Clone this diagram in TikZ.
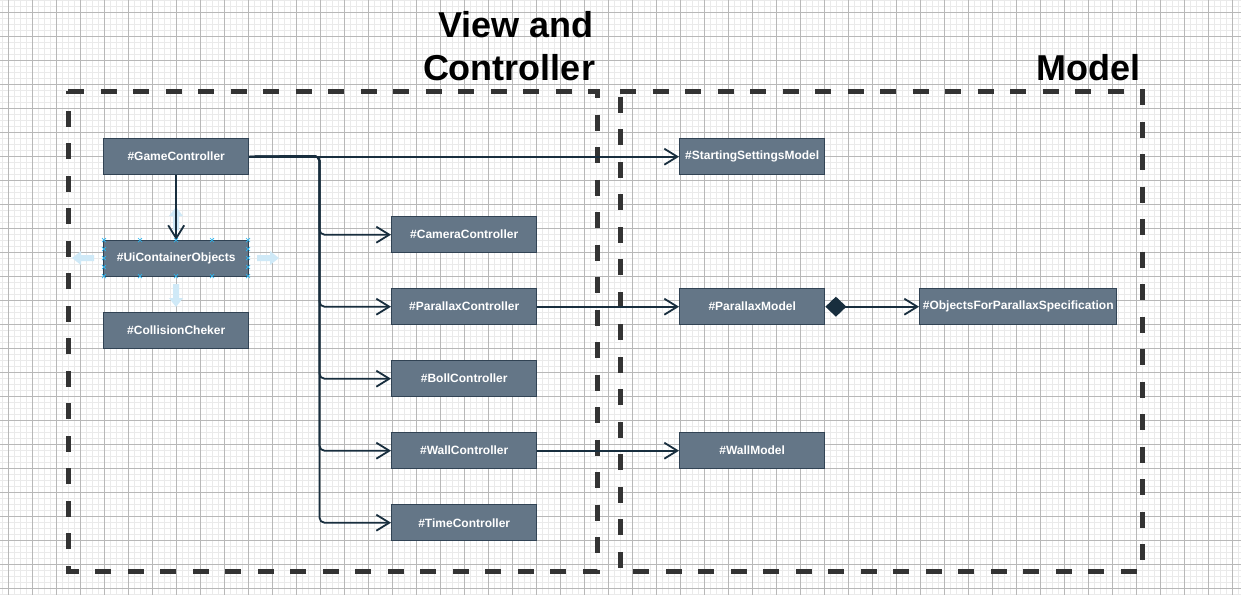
\documentclass[tikz,border=0pt]{standalone}
\usepackage{fontspec}
\setmainfont{Liberation Sans}
\usetikzlibrary{arrows.meta}
\definecolor{boxfill}{HTML}{647687}
\definecolor{boxline}{HTML}{314354}
\definecolor{edgec}{HTML}{182E3E}
\definecolor{dashc}{HTML}{333333}
\definecolor{selblue}{HTML}{29B6F2}
\definecolor{hoverblue}{HTML}{CFE9F7}
\definecolor{gridmajor}{HTML}{B8B8B8}
\definecolor{gridminor}{HTML}{EAEAEA}
\begin{document}
\begin{tikzpicture}[x=1pt,y=-1pt,
  cls/.style={draw=boxline, fill=boxfill, line width=1.4pt, text=white,
    font=\fontsize{12}{14}\selectfont\bfseries, minimum width=145pt,
    minimum height=36pt, inner sep=0pt, anchor=north west},
  conn/.style={draw=edgec, line width=1.8pt, rounded corners=5pt,
    -{Straight Barb[length=13pt,width=16pt]}},
  container/.style={draw=dashc, line width=5pt, dash pattern=on 16pt off 16.5pt},
  title/.style={font=\fontsize{36}{43}\selectfont\bfseries, anchor=base, inner sep=0pt},
  minorgrid/.style={draw=gridminor, line width=1pt},
  majorgrid/.style={draw=gridmajor, line width=0.9pt},
  hover/.style={fill=hoverblue, draw=none},
  handle/.style={draw=selblue, line width=0.7pt}]
\useasboundingbox (0,0) rectangle (1241,595);
\fill[white] (0,0) rectangle (1241,595);
% grid
\foreach \i in {0,...,207} {\draw[minorgrid] ({2+6*\i},0) -- ({2+6*\i},595);}
\foreach \i in {0,...,99} {\draw[minorgrid] (0,{0.7+6*\i}) -- (1241,{0.7+6*\i});}
\foreach \i in {0,...,51} {\draw[majorgrid] ({8+24*\i},0) -- ({8+24*\i},595);}
\foreach \i in {0,...,24} {\draw[majorgrid] (0,{12.7+24*\i}) -- (1241,{12.7+24*\i});}
% containers
\draw[container] (68,91) -- (597,91) -- (597,571) -- (68,571) -- cycle;
\draw[container] (620,91) -- (1142,91) -- (1142,571) -- (620,571) -- cycle;
% titles
\node[title] (tview) at (516,37) {View and};
\node[title] (tctrl) at (509,80) {Controller};
\node[title] (tmodel) at (1088,80) {Model};
% hover arrows around selected node
\fill[hover] (72,258) -- (81,251) -- (81,255) -- (94,255) -- (94,261) -- (81,261) -- (81,265) -- cycle;
\fill[hover] (279,258) -- (270,251) -- (270,255) -- (257,255) -- (257,261) -- (270,261) -- (270,265) -- cycle;
\fill[hover] (176,307) -- (169,298) -- (173,298) -- (173,284) -- (179,284) -- (179,298) -- (183,298) -- cycle;
\fill[hover] (176,207) -- (169,216) -- (173,216) -- (173,230) -- (179,230) -- (179,216) -- (183,216) -- cycle;
% nodes
\node[cls] (gc) at (103,138) {\#GameController};
\node[cls] (ui) at (103,240) {\#UiContainerObjects};
\node[cls] (cc) at (103,312) {\#CollisionCheker};
\node[cls] (cam) at (391,216) {\#CameraController};
\node[cls] (par) at (391,288) {\#ParallaxController};
\node[cls] (boll) at (391,360) {\#BollController};
\node[cls] (wall) at (391,432) {\#WallController};
\node[cls] (time) at (391,504) {\#TimeController};
\node[cls] (ssm) at (679,138) {\#StartingSettingsModel};
\node[cls] (pm) at (679,288) {\#ParallaxModel};
\node[cls] (wm) at (679,432) {\#WallModel};
\node[cls, minimum width=197pt] (ofp) at (919,288) {\#ObjectsForParallaxSpecification};
% connectors
\coordinate (trunk) at (319.5,156);
\draw[conn] (gc.east) -- (ssm.west);
\draw[conn] (gc.east) -- (trunk) |- (cam.west);
\draw[conn] (gc.east) -- (trunk) |- (par.west);
\draw[conn] (gc.east) -- (trunk) |- (boll.west);
\draw[conn] (gc.east) -- (trunk) |- (wall.west);
\draw[conn] (gc.east) -- (trunk) |- (time.west);
\draw[conn] (gc.south) -- (ui.north);
\draw[conn] (par.east) -- (pm.west);
\draw[conn] (wall.east) -- (wm.west);
\draw[conn, {Diamond[length=21pt,width=20pt]}-{Straight Barb[length=13pt,width=16pt]}] (pm.east) -- (ofp.west);
% selection handles
\foreach \x in {104,140,176,212,248} {
  \foreach \y in {240,276} {
    \draw[handle] (\x-2,\y-2) -- (\x+2,\y+2) (\x-2,\y+2) -- (\x+2,\y-2);
  }
}
\foreach \x in {104,248} {
  \foreach \y in {249,258,267} {
    \draw[handle] (\x-2,\y-2) -- (\x+2,\y+2) (\x-2,\y+2) -- (\x+2,\y-2);
  }
}
\end{tikzpicture}
\end{document}
